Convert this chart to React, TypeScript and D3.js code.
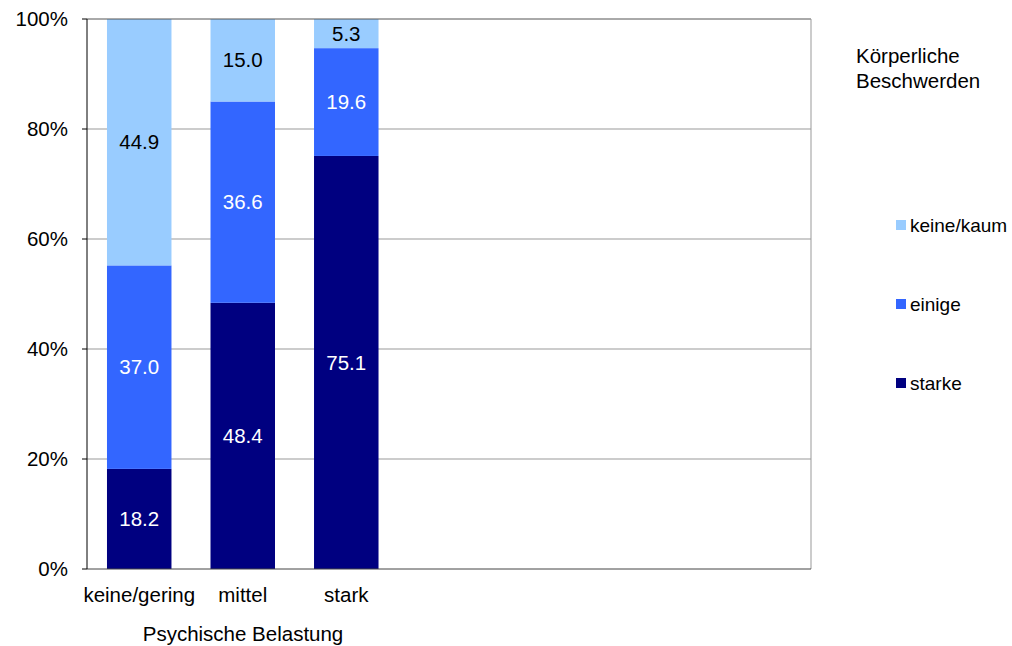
import * as d3 from 'd3';

const categories = ['keine/gering', 'mittel', 'stark'];
const seriesNames = ['starke', 'einige', 'keine/kaum'];
const starke = [18.2, 48.4, 75.1];
const einige = [37.0, 36.6, 19.6];
const keineKaum = [44.9, 15.0, 5.3];
const yTicks = [0, 20, 40, 60, 80, 100];

const colors = ['#000080', '#3366FF', '#99CCFF'];
const labelColors = ['#ffffff', '#ffffff', '#000000'];

const W = 1012;
const H = 646;
const plot = { left: 87, right: 811, top: 19, bottom: 569 };
const font = '"Liberation Sans", Arial, sans-serif';
const fs = 20.5;

export default function App() {
  const rows = categories.map((c, i) => ({
    cat: c,
    starke: starke[i],
    einige: einige[i],
    'keine/kaum': keineKaum[i],
  }));
  const stacked = d3.stack<any>().keys(seriesNames)(rows);

  const x = d3
    .scaleBand<string>()
    .domain(categories)
    .range([plot.left, 398.5])
    .paddingInner(0.377)
    .paddingOuter(0.193);

  const y = d3
    .scaleLinear()
    .domain([0, 100])
    .range([plot.bottom, plot.top])
    .clamp(true);

  const legendY = [383, 304, 225];

  return (
    <svg
      width={W}
      height={H}
      style={{ position: 'absolute', left: 0, top: 0, fontFamily: font }}
    >
      <rect width={W} height={H} fill="#fff" />
      {yTicks.slice(1, -1).map((t) => (
        <line
          key={t}
          x1={plot.left}
          x2={plot.right}
          y1={y(t)}
          y2={y(t)}
          stroke="#999"
          strokeWidth={1}
        />
      ))}
      {stacked.map((s, si) =>
        s.map((d, i) => (
          <rect
            key={`${si}-${i}`}
            x={x(categories[i])}
            width={x.bandwidth()}
            y={y(d[1])}
            height={y(d[0]) - y(d[1])}
            fill={colors[si]}
          />
        )),
      )}
      {stacked.map((s, si) =>
        s.map((d, i) => (
          <text
            key={`l${si}-${i}`}
            x={(x(categories[i]) ?? 0) + x.bandwidth() / 2}
            y={(y(d[0]) + y(d[1])) / 2}
            dy="0.35em"
            textAnchor="middle"
            fontSize={fs}
            fill={labelColors[si]}
          >
            {(d[1] - d[0]).toFixed(1)}
          </text>
        )),
      )}
      {/* frame */}
      <line x1={plot.left} x2={plot.right} y1={plot.top} y2={plot.top} stroke="#555" />
      <line x1={plot.right} x2={plot.right} y1={plot.top} y2={plot.bottom} stroke="#999" />
      <line x1={plot.left} x2={plot.right} y1={plot.bottom} y2={plot.bottom} stroke="#444" />
      <line x1={plot.left} x2={plot.left} y1={plot.top} y2={plot.bottom} stroke="#000" />
      {yTicks.map((t) => (
        <g key={`t${t}`}>
          <line x1={plot.left - 5} x2={plot.left} y1={y(t)} y2={y(t)} stroke="#000" />
          <text
            x={68}
            y={y(t)}
            dy="0.35em"
            textAnchor="end"
            fontSize={fs}
            fill="#000"
          >
            {t}%
          </text>
        </g>
      ))}
      {categories.map((c) => (
        <text
          key={c}
          x={(x(c) ?? 0) + x.bandwidth() / 2}
          y={602}
          textAnchor="middle"
          fontSize={fs}
          fill="#000"
        >
          {c}
        </text>
      ))}
      <text x={243} y={641} textAnchor="middle" fontSize={fs} fill="#000">
        Psychische Belastung
      </text>
      <text x={856} y={63} fontSize={fs} fill="#000">
        Körperliche
      </text>
      <text x={856} y={88} fontSize={fs} fill="#000">
        Beschwerden
      </text>
      {seriesNames.map((n, i) => (
        <g key={n}>
          <rect x={896} y={legendY[i] - 5} width={10} height={10} fill={colors[i]} />
          <text x={910} y={legendY[i]} dy="0.35em" fontSize={19} fill="#000">
            {n}
          </text>
        </g>
      ))}
    </svg>
  );
}
